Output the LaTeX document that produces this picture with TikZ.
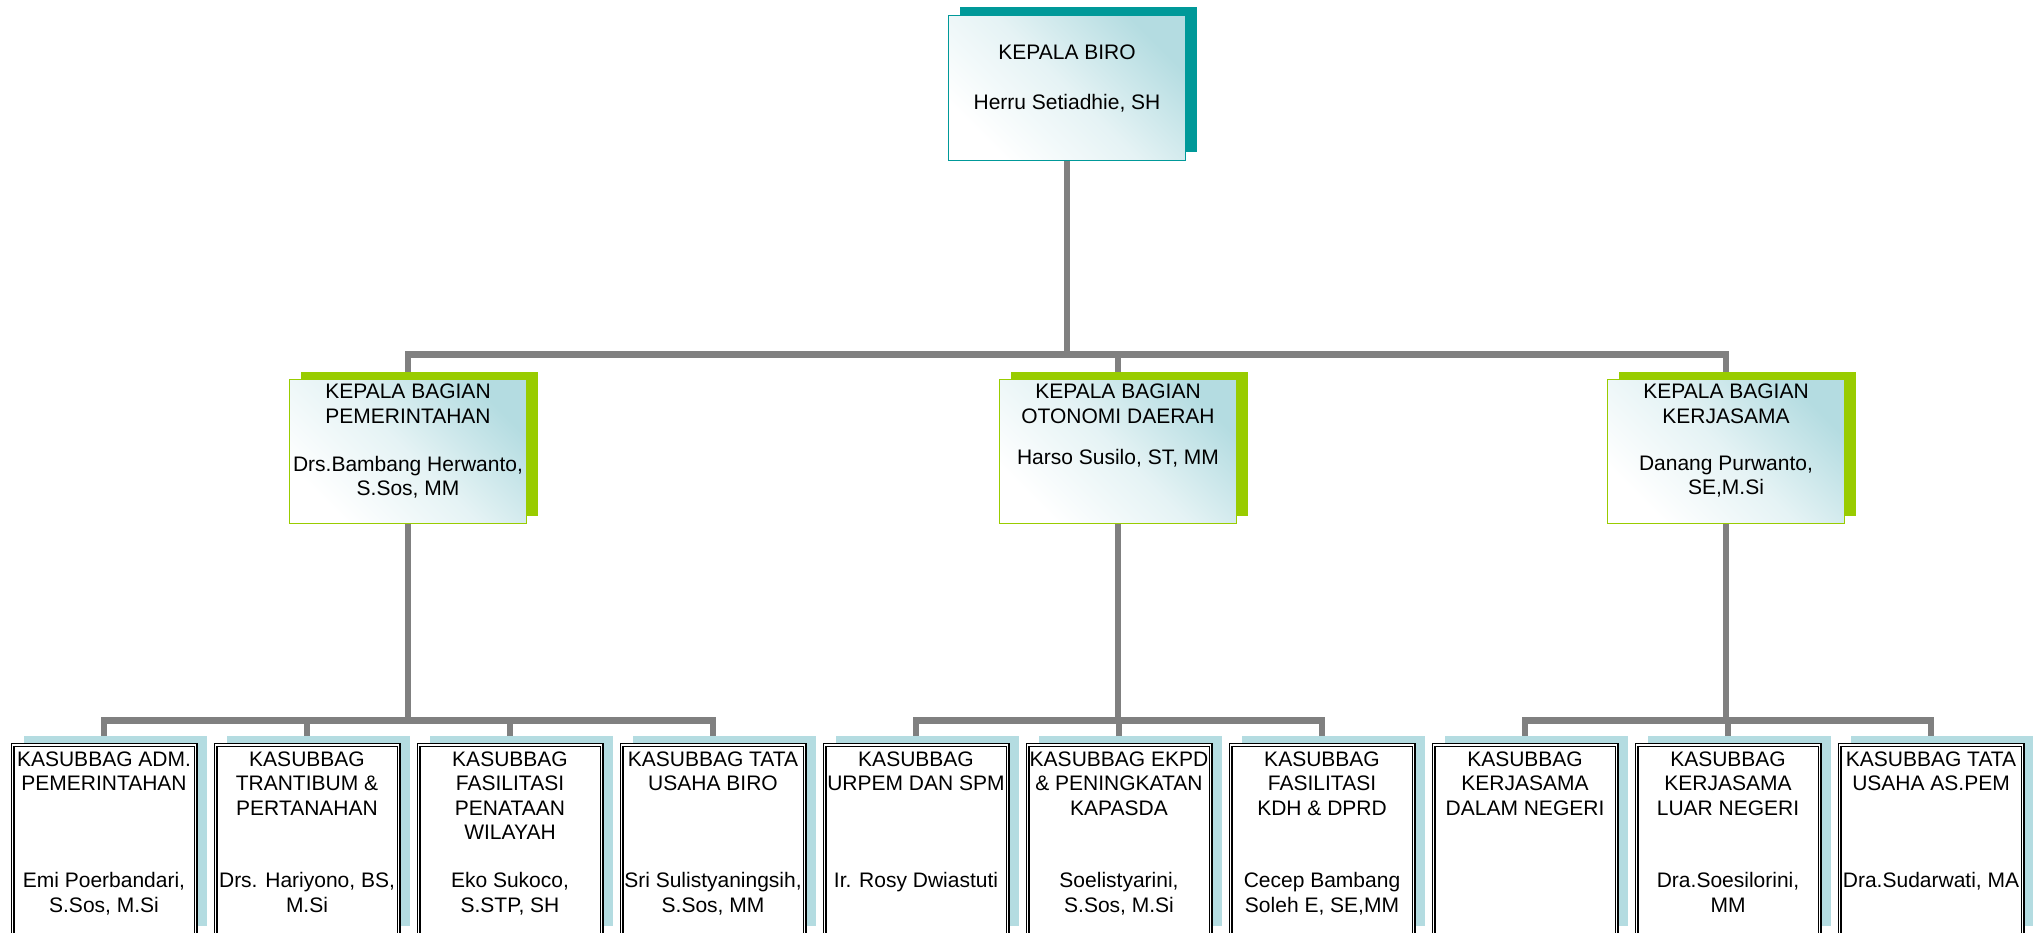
\documentclass[tikz,border=0pt]{standalone}
\usepackage{fontspec}
\setmainfont{Liberation Sans}
\usetikzlibrary{positioning,shadows,backgrounds}
\definecolor{birotosca}{RGB}{0,153,153}
\definecolor{bagianhijau}{RGB}{153,204,0}
\definecolor{kasubbagbiru}{RGB}{180,220,225}
\definecolor{garisabu}{RGB}{128,128,128}
\tikzstyle{connector} = [line width=6.5pt, draw=garisabu]
\tikzstyle{gradasi} = [left color=white, right color=kasubbagbiru, middle color=white!65!kasubbagbiru, shading angle=135]
\tikzstyle{biro} = [rectangle, draw=birotosca, line width=1.5pt, gradasi, minimum width=237pt, minimum height=145pt, inner sep=0pt,
                    general shadow={fill=birotosca, draw=none, shadow xshift=11pt, shadow yshift=8pt}]
\tikzstyle{bagian} = [rectangle, draw=bagianhijau, line width=1.5pt, gradasi, minimum width=237pt, minimum height=144pt, inner sep=0pt,
                    general shadow={fill=bagianhijau, draw=none, shadow xshift=11pt, shadow yshift=8pt}]
\tikzstyle{kasubbag} = [rectangle, draw=black, double=white, double distance=1.8pt, line width=1.1pt, fill=white,
                    minimum width=183pt, minimum height=190pt, inner sep=0pt,
                    general shadow={fill=kasubbagbiru, draw=none, shadow xshift=11pt, shadow yshift=9pt}]
\tikzstyle{teks} = [align=center, inner sep=0pt, font=\fontsize{21}{24.5}\selectfont]

\begin{document}
\begin{tikzpicture}[x=1pt, y=-1pt, node distance=203pt]
    \useasboundingbox (0,0) rectangle (2033,933);
    \clip (0,0) rectangle (2033,933);
    % kepala biro
    \node (root) [biro] at (1067,88) {};
    \node (judul-root) [teks, below=30pt of root.north] {KEPALA BIRO};
    \node (nama-root) [teks, below=79pt of root.north] {Herru Setiadhie, SH};
    % kepala bagian
    \node (bagian-1) [bagian] at (408,451.5) {};
    \node (bagian-2) [bagian] at (1118,451.5) {};
    \node (bagian-3) [bagian] at (1726,451.5) {};
    \node (judul-b1) [teks, below=5pt of bagian-1.north] {KEPALA BAGIAN\\PEMERINTAHAN};
    \node (nama-b1) [teks, below=77pt of bagian-1.north] {Drs.Bambang Herwanto,\\S.Sos, MM};
    \node (judul-b2) [teks, below=5pt of bagian-2.north] {KEPALA BAGIAN\\OTONOMI DAERAH};
    \node (nama-b2) [teks, below=70pt of bagian-2.north] {Harso Susilo, ST, MM};
    \node (judul-b3) [teks, below=5pt of bagian-3.north] {KEPALA BAGIAN\\KERJASAMA};
    \node (nama-b3) [teks, below=77pt of bagian-3.north] {Danang Purwanto,\\SE,M.Si};
    % kasubbag
    \node (kasubbag-1) [kasubbag] at (104,840) {};
    \node (kasubbag-2) [kasubbag, right of=kasubbag-1] {};
    \node (kasubbag-3) [kasubbag, right of=kasubbag-2] {};
    \node (kasubbag-4) [kasubbag, right of=kasubbag-3] {};
    \node (kasubbag-5) [kasubbag, right of=kasubbag-4] {};
    \node (kasubbag-6) [kasubbag, right of=kasubbag-5] {};
    \node (kasubbag-7) [kasubbag, right of=kasubbag-6] {};
    \node (kasubbag-8) [kasubbag, right of=kasubbag-7] {};
    \node (kasubbag-9) [kasubbag, right of=kasubbag-8] {};
    \node (kasubbag-10) [kasubbag, right of=kasubbag-9] {};
    \node (judul-k1) [teks, below=7pt of kasubbag-1.north] {KASUBBAG ADM.\\PEMERINTAHAN};
    \node (nama-k1) [teks, below=128pt of kasubbag-1.north] {Emi Poerbandari,\\S.Sos, M.Si};
    \node (judul-k2) [teks, below=7pt of kasubbag-2.north] {KASUBBAG\\TRANTIBUM \&\\PERTANAHAN};
    \node (nama-k2) [teks, below=128pt of kasubbag-2.north] {Drs. Hariyono, BS,\\M.Si};
    \node (judul-k3) [teks, below=7pt of kasubbag-3.north] {KASUBBAG\\FASILITASI\\PENATAAN\\WILAYAH};
    \node (nama-k3) [teks, below=128pt of kasubbag-3.north] {Eko Sukoco,\\S.STP, SH};
    \node (judul-k4) [teks, below=7pt of kasubbag-4.north] {KASUBBAG TATA\\USAHA BIRO};
    \node (nama-k4) [teks, below=128pt of kasubbag-4.north] {Sri Sulistyaningsih,\\S.Sos, MM};
    \node (judul-k5) [teks, below=7pt of kasubbag-5.north] {KASUBBAG\\URPEM DAN SPM};
    \node (nama-k5) [teks, below=128pt of kasubbag-5.north] {Ir. Rosy Dwiastuti};
    \node (judul-k6) [teks, below=7pt of kasubbag-6.north] {KASUBBAG EKPD\\\& PENINGKATAN\\KAPASDA};
    \node (nama-k6) [teks, below=128pt of kasubbag-6.north] {Soelistyarini,\\S.Sos, M.Si};
    \node (judul-k7) [teks, below=7pt of kasubbag-7.north] {KASUBBAG\\FASILITASI\\KDH \& DPRD};
    \node (nama-k7) [teks, below=128pt of kasubbag-7.north] {Cecep Bambang\\Soleh E, SE,MM};
    \node (judul-k8) [teks, below=7pt of kasubbag-8.north] {KASUBBAG\\KERJASAMA\\DALAM NEGERI};
    \node (judul-k9) [teks, below=7pt of kasubbag-9.north] {KASUBBAG\\KERJASAMA\\LUAR NEGERI};
    \node (nama-k9) [teks, below=128pt of kasubbag-9.north] {Dra.Soesilorini,\\MM};
    \node (judul-k10) [teks, below=7pt of kasubbag-10.north] {KASUBBAG TATA\\USAHA AS.PEM};
    \node (nama-k10) [teks, below=128pt of kasubbag-10.north] {Dra.Sudarwati, MA};
    % garis penghubung
    \begin{scope}[on background layer]
        \draw [connector] (root.south) -- ++(0,193) coordinate (bar-root);
        \draw [connector] (bagian-1.north) |- (bar-root) -| (bagian-3.north);
        \draw [connector] (bagian-2.north) |- (bar-root);
        \draw [connector] (bagian-1.south) -- ++(0,196) coordinate (bar-1);
        \draw [connector] (kasubbag-1.north) |- (bar-1) -| (kasubbag-4.north);
        \draw [connector] (kasubbag-2.north) |- (bar-1);
        \draw [connector] (kasubbag-3.north) |- (bar-1);
        \draw [connector] (bagian-2.south) -- ++(0,196) coordinate (bar-2);
        \draw [connector] (kasubbag-5.north) |- (bar-2) -| (kasubbag-7.north);
        \draw [connector] (kasubbag-6.north) |- (bar-2);
        \draw [connector] (bagian-3.south) -- ++(0,196) coordinate (bar-3);
        \draw [connector] (kasubbag-8.north) |- (bar-3) -| (kasubbag-10.north);
        \draw [connector] (kasubbag-9.north) |- (bar-3);
    \end{scope}
\end{tikzpicture}
\end{document}
